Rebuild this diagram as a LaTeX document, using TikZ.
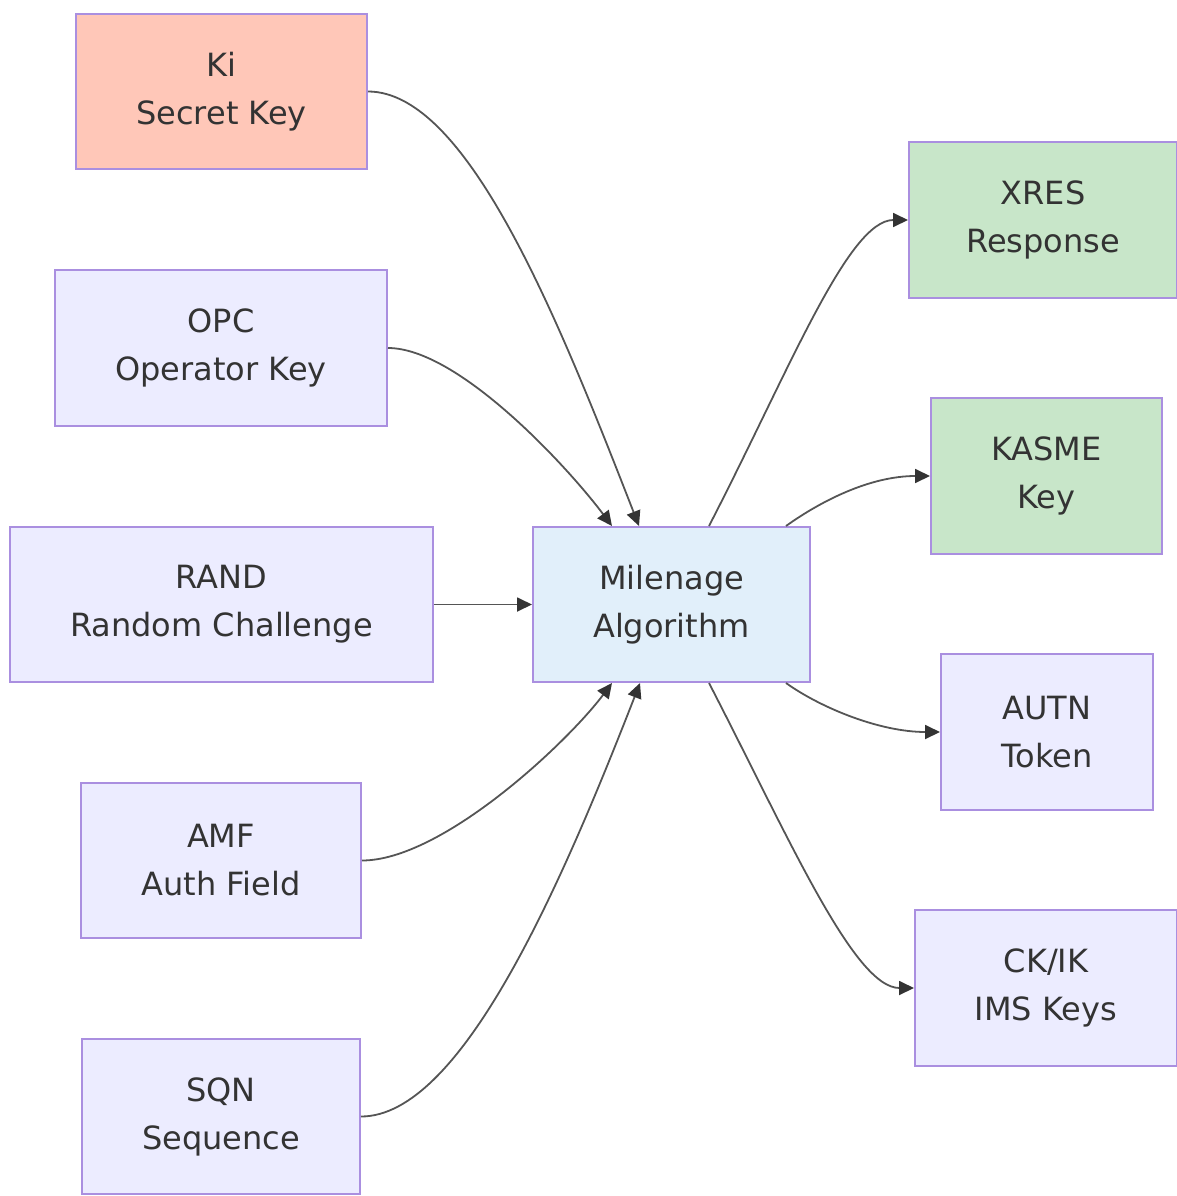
\documentclass[tikz,border=0pt]{standalone}
\usepackage{fontspec}
\setmainfont{DejaVu Sans}
\usetikzlibrary{arrows.meta}
\definecolor{bord}{HTML}{AA8FE0}
\definecolor{deffill}{HTML}{ECECFF}
\definecolor{keyfill}{HTML}{FFC7B8}
\definecolor{algfill}{HTML}{E1EFFA}
\definecolor{outfill}{HTML}{C8E6C9}
\definecolor{txt}{HTML}{333333}
\definecolor{edge}{HTML}{555555}
\tikzset{
  box/.style={draw=bord, line width=2pt, fill=deffill, text=txt, align=center,
    inner sep=0pt, font=\fontsize{32}{48}\selectfont},
  conn/.style={draw=edge, line width=1.8pt, -{Triangle[length=15pt,width=14pt,color=txt]}},
}
\begin{document}
\begin{tikzpicture}[x=1pt,y=-1pt]
\useasboundingbox (0,0) rectangle (1177,1196);
\node[box, fill=keyfill, minimum width=291pt, minimum height=155pt] (ki) at (221.5,91.5) {Ki\\Secret Key};
\node[box, minimum width=332pt, minimum height=156pt] (opc) at (221,348) {OPC\\Operator Key};
\node[box, minimum width=423pt, minimum height=155pt] (rand) at (221.5,604.5) {RAND\\Random Challenge};
\node[box, minimum width=280pt, minimum height=155pt] (amf) at (221,860.5) {AMF\\Auth Field};
\node[box, minimum width=278pt, minimum height=155pt] (sqn) at (221,1116.5) {SQN\\Sequence};
\node[box, fill=algfill, minimum width=277pt, minimum height=155pt] (mil) at (671.5,604.5) {Milenage\\Algorithm};
\node[box, fill=outfill, minimum width=268pt, minimum height=156pt] (xres) at (1043,220) {XRES\\Response};
\node[box, fill=outfill, minimum width=231pt, minimum height=156pt] (kasme) at (1046.5,476) {KASME\\Key};
\node[box, minimum width=212pt, minimum height=156pt] (autn) at (1047,732) {AUTN\\Token};
\node[box, minimum width=262pt, minimum height=156pt] (ckik) at (1046,988) {CK/IK\\IMS Keys};

\draw[conn] (ki.east) .. controls +(100,0) and +(-80,-205) .. ([xshift=107pt]mil.north west);
\draw[conn] (opc.east) .. controls +(70,0) and +(-45,-60) .. ([xshift=80pt]mil.north west);
\draw[conn] (rand.east) -- (mil.west);
\draw[conn] (amf.east) .. controls +(80,0) and +(-45,60) .. ([xshift=80pt]mil.south west);
\draw[conn] (sqn.east) .. controls +(100,0) and +(-80,205) .. ([xshift=108pt]mil.south west);
\draw[conn] ([xshift=177pt]mil.north west) .. controls +(80,-155) and +(-60,0) .. (xres.west);
\draw[conn] ([xshift=254pt]mil.north west) .. controls +(35,-25) and +(-60,0) .. (kasme.west);
\draw[conn] ([xshift=254pt]mil.south west) .. controls +(35,25) and +(-60,0) .. (autn.west);
\draw[conn] ([xshift=177pt]mil.south west) .. controls +(80,155) and +(-60,0) .. (ckik.west);
\end{tikzpicture}
\end{document}
